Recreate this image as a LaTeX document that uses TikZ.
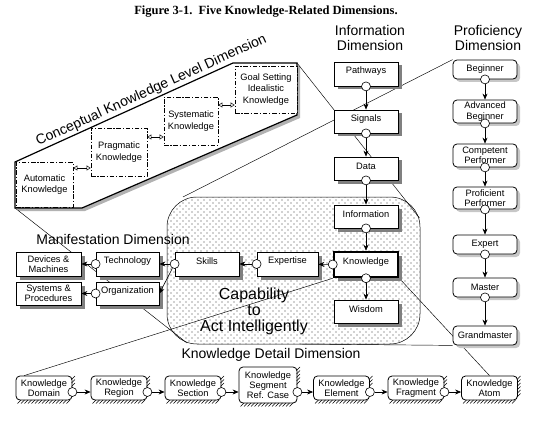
\documentclass[tikz,border=0pt]{standalone}
\usepackage{fontspec}
\setmainfont{Liberation Sans}
\newfontfamily\titlefont{Liberation Serif}
\usetikzlibrary{shadows,patterns,arrows.meta,calc,backgrounds}
\pgfdeclarepatternformonly{capdots}{\pgfqpoint{-1pt}{-1pt}}{\pgfqpoint{7pt}{7pt}}{\pgfqpoint{6pt}{6pt}}{%
  \pgfpathcircle{\pgfqpoint{0pt}{0pt}}{0.55pt}%
  \pgfpathcircle{\pgfqpoint{3pt}{3pt}}{0.55pt}%
  \pgfusepath{fill}}
\newcommand\upt[1]{\raisebox{2.5pt}[\height][\depth]{#1}}
% x0 x1 ytop ybot n(right strokes)
\newcommand\khatch[5]{%
  \foreach \i in {0,...,14} \draw[line width=0.45pt] ({#1+1.5+3.5*\i},{#4+3.5}) -- ++(3.5,-3.5);
  \foreach \j in {1,...,#5} \draw[line width=0.45pt] ({#2-0.5},{#3+3.5*\j}) -- ++(3.5,-3.5);
}
\begin{document}
\begin{tikzpicture}[x=1pt,y=-1pt,
  every node/.style={font=\fontsize{9.3}{10.3}\selectfont, align=center, inner sep=1pt},
  ibox/.style={draw, line width=0.8pt, fill=white, minimum width=64pt, minimum height=23pt,
    drop shadow={shadow xshift=3.5pt, shadow yshift=-3.5pt, fill=black!50, opacity=1}},
  pbox/.style={draw, line width=0.8pt, fill=white, rounded corners=4pt, minimum width=64pt, minimum height=19pt,
    drop shadow={shadow xshift=3pt, shadow yshift=-3pt, fill=black!22, opacity=1}},
  mbox/.style={ibox, minimum height=24pt},
  kbox/.style={draw, line width=0.8pt, fill=white, rounded corners=4pt, minimum width=56pt, minimum height=24pt},
  cbox/.style={draw, line width=0.7pt, dash pattern=on 4.5pt off 1.8pt on 1.2pt off 1.8pt, fill=white,
    minimum width=56pt, minimum height=47pt, font=\fontsize{9.3}{11.5}\selectfont},
  circ/.style={circle, draw, line width=0.6pt, fill=white, inner sep=0pt, minimum size=9pt},
  arr/.style={line width=0.6pt, -{Stealth[length=6pt,width=5pt]}},
  darr/.style={line width=0.5pt, {Triangle[open,length=4pt,width=5pt]}-{Triangle[open,length=4pt,width=5pt]}},
  proj/.style={line width=0.45pt, black},
  head/.style={font=\fontsize{14}{15}\selectfont, inner sep=0pt},
]
\useasboundingbox (0,0) rectangle (540,422);

% title
\node[font=\titlefont\bfseries\fontsize{12.5}{14}\selectfont] (title) at (266,12) {Figure 3-1.\ \ Five Knowledge-Related Dimensions.};

% headings
\node[head] (infohd) at (370,37.5) {Information\\Dimension};
\node[head] (profhd) at (488,37.5) {Proficiency\\Dimension};
\node[head] (manlab) at (113,239) {Manifestation Dimension};
\node[head] (detlab) at (271,355) {Knowledge Detail Dimension};

% information dimension
\node[ibox, minimum height=24pt] (path) at (366,74) {\upt{Pathways}};
\node[ibox] (sig) at (366,121.5) {\upt{Signals}};
\node[ibox] (data) at (366,168.5) {\upt{Data}};
\node[ibox] (info) at (366,216.5) {\upt{Information}};
\node[ibox, line width=2.5pt, minimum height=25pt] (know) at (366,264.5) {\upt{Knowledge}};
\node[ibox] (wis) at (366,311.5) {\upt{Wisdom}};

% proficiency dimension
\node[pbox] (beg) at (485,69.5) {Beginner};
\node[pbox, minimum height=23pt] (adv) at (485,111.5) {Advanced\\Beginner};
\node[pbox, minimum height=23pt] (comp) at (485,155.5) {Competent\\Performer};
\node[pbox, minimum height=22pt] (prof) at (485,198) {Proficient\\Performer};
\node[pbox] (exp) at (485,244.5) {Expert};
\node[pbox] (mast) at (485,287.5) {Master};
\node[pbox] (gm) at (485,335.5) {Grandmaster};

% manifestation dimension
\node[mbox, minimum width=65pt] (dev) at (48.5,264) {Devices \&\\Machines};
\node[mbox, minimum width=65pt, minimum height=23pt] (sys) at (48.5,293.5) {Systems \&\\Procedures};
\node[mbox, minimum width=63pt] (tech) at (127.5,264) {\upt{Technology}};
\node[mbox, minimum width=63pt, minimum height=23pt] (org) at (127.5,293.5) {\upt{Organization}};
\node[mbox] (sk) at (207,264) {\upt{Skills}};
\node[mbox, minimum width=61pt] (ex) at (287.5,264) {\upt{Expertise}};

% capability text
\node[font=\fontsize{16}{16}\selectfont] (cap) at (254,311) {Capability\\to\\Act Intelligently};

% conceptual knowledge level dimension
\node[cbox, minimum width=57pt, minimum height=45pt] (auto) at (44.5,184.5) {Automatic\\Knowledge};
\node[cbox, minimum height=48pt] (prag) at (119,152) {Pragmatic\\Knowledge};
\node[cbox, minimum width=54pt, minimum height=48pt] (syst) at (191,121) {Systematic\\Knowledge};
\node[cbox, minimum width=62pt] (goal) at (266,89.5) {Goal Setting\\Idealistic\\Knowledge};
\node[font=\fontsize{14}{16}\selectfont, rotate=24.4, anchor=south, inner sep=2pt] (ckl) at (155,98.5) {Conceptual Knowledge Level Dimension};
\draw[darr] (auto.east |- 0,168) -- (prag.west |- 0,168);
\draw[darr] (prag.east |- 0,137) -- (syst.west |- 0,137);
\draw[darr] (syst.east |- 0,105) -- (goal.west |- 0,105);

% knowledge detail dimension
\node[kbox] (dom) at (44,388) {Knowledge\\Domain};
\node[kbox] (reg) at (119,388) {Knowledge\\Region};
\node[kbox] (sec) at (193,388) {Knowledge\\Section};
\node[kbox, minimum width=58pt, minimum height=36pt] (seg) at (268,385) {Knowledge\\Segment\\Ref. Case};
\node[kbox] (ele) at (341.5,388) {Knowledge\\Element};
\node[kbox] (frag) at (416,388) {Knowledge\\Fragment};
\node[kbox] (atom) at (489.5,388) {Knowledge\\Atom};
\khatch{16}{72}{376}{400}{3}
\khatch{91}{147}{376}{400}{3}
\khatch{165}{221}{376}{400}{3}
\khatch{239}{297}{367}{403}{5}
\khatch{313.5}{369.5}{376}{400}{3}
\khatch{388}{444}{376}{400}{3}
\khatch{461.5}{517.5}{376}{400}{6}

% background: capability region, banner, projection lines
\coordinate (btl) at (15,162);
\coordinate (btr) at (297,63);
\coordinate (bbl) at (15,208);
\coordinate (rright) at (419.5,218);
\coordinate (rtl) at (183,197);
\coordinate (rbl) at (187,343);
\coordinate (rbot) at (300,344);
\begin{scope}[on background layer]
  \draw[line width=0.5pt, fill=white, rounded corners=30pt] (167,197) rectangle (420,344);
  \fill[pattern=capdots, pattern color=black!75, rounded corners=30pt] (167,197) rectangle (420,344);
  \fill[black!30] (18,165) -- (236,66) -- (300,66) -- (300,118) -- (85,211) -- (18,211) -- cycle;
  \draw[line width=1.2pt, fill=white] (btl) -- (233,63) -- (btr) -- (297,115) -- (82,208) -- (bbl) -- cycle;
  \draw[proj] (btr) -- (rright);
  \draw[proj] (bbl) -- (rbl);
  \draw[proj] (beg.north west) -- (rtl);
  \draw[proj] (gm.south west) -- (rbot);
  \draw[proj] (know.south west) -- ($(dom.north west)!0.15!(dom.north east)$);
  \draw[proj] (know.south east) -- (atom.north);
\end{scope}

% circles and arrows: information
\node[circ] (pathc) at (path.south) {};
\node[circ] (sigc) at (sig.south) {};
\node[circ] (datac) at (data.south) {};
\node[circ] (infoc) at (info.south) {};
\node[circ] (knowc) at (know.south) {};
\node[circ] (knowlc) at (know.west) {};
\draw[arr] (pathc) -- (sig);
\draw[arr] (sigc) -- (data);
\draw[arr] (datac) -- (info);
\draw[arr] (infoc) -- (know);
\draw[arr] (knowc) -- (wis);
\draw[arr] (knowlc) -- (ex);

% manifestation
\node[circ] (exc) at (ex.west) {};
\node[circ] (skc) at (sk.west) {};
\node[circ] (techc) at (tech.west) {};
\node[circ] (orgc) at (org.west) {};
\draw[arr] (exc) -- (sk);
\draw[arr] (skc) -- (tech);
\draw[arr] (skc) -- (org.east);
\draw[arr] (techc) -- (dev);
\draw[arr] (orgc) -- (sys);

% proficiency
\node[circ] (begc) at (beg.south) {};
\node[circ] (advc) at (adv.south) {};
\node[circ] (compc) at (comp.south) {};
\node[circ] (profc) at (prof.south) {};
\node[circ] (expc) at (exp.south) {};
\node[circ] (mastc) at (mast.south) {};
\draw[arr] (begc) -- (adv);
\draw[arr] (advc) -- (comp);
\draw[arr] (compc) -- (prof);
\draw[arr] (profc) -- (exp);
\draw[arr] (expc) -- (mast);
\draw[arr] (mastc) -- (gm);

% knowledge detail
\node[circ] (domc) at (dom.east |- 0,392) {};
\node[circ] (regc) at (reg.east |- 0,392) {};
\node[circ] (secc) at (sec.east |- 0,392) {};
\node[circ] (segc) at (seg.east |- 0,392) {};
\node[circ] (elec) at (ele.east |- 0,392) {};
\node[circ] (fragc) at (frag.east |- 0,392) {};
\draw[arr] (domc) -- (domc -| reg.west);
\draw[arr] (regc) -- (regc -| sec.west);
\draw[arr] (secc) -- (secc -| seg.west);
\draw[arr] (segc) -- (segc -| ele.west);
\draw[arr] (elec) -- (elec -| frag.west);
\draw[arr] (fragc) -- (fragc -| atom.west);
\end{tikzpicture}
\end{document}
